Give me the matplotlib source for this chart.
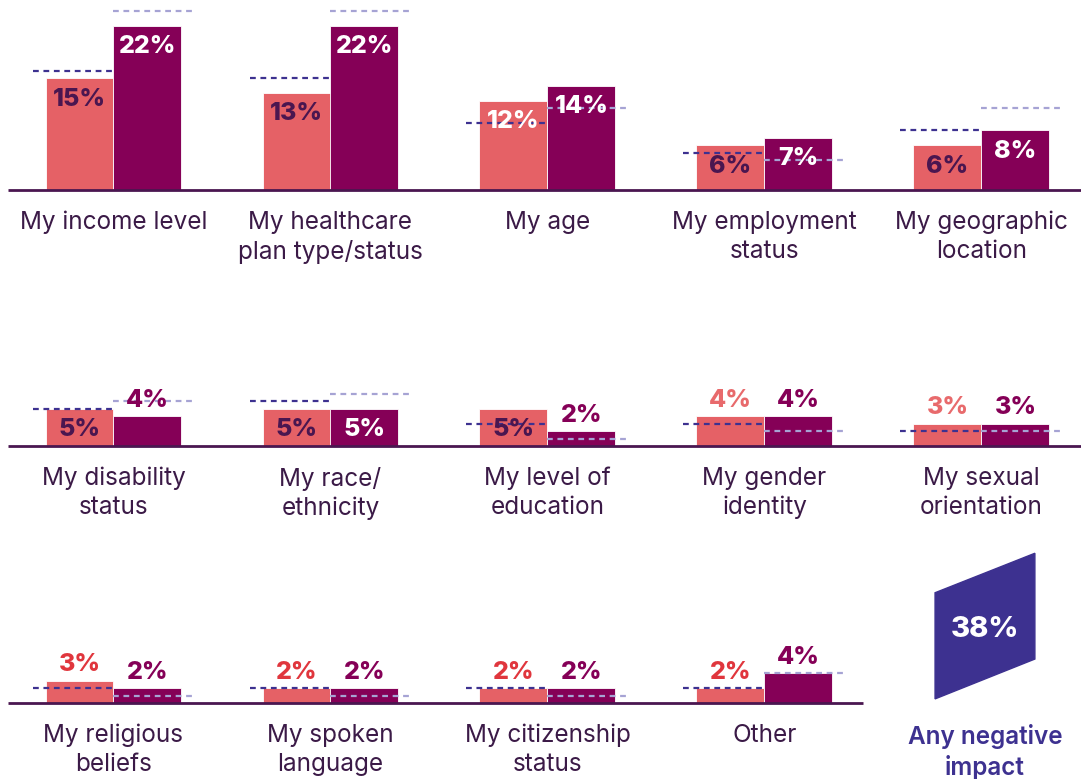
import numpy as np
import matplotlib.pyplot as plt
from matplotlib.patches import Polygon

# three rows of five categories (last row has four plus the overall figure)
categories = [
    ["My income level", "My healthcare\nplan type/status", "My age",
     "My employment\nstatus", "My geographic\nlocation"],
    ["My disability\nstatus", "My race/\nethnicity", "My level of\neducation",
     "My gender\nidentity", "My sexual\norientation"],
    ["My religious\nbeliefs", "My spoken\nlanguage", "My citizenship\nstatus", "Other"],
]
# current values (salmon = group A, purple = group B)
group_a = [[15, 13, 12, 6, 6], [5, 5, 5, 4, 3], [3, 2, 2, 2]]
group_b = [[22, 22, 14, 7, 8], [4, 5, 2, 4, 3], [2, 2, 2, 4]]
# previous-year values, drawn as dashed reference lines
prev_a = [[16, 15, 9, 5, 8], [5, 6, 3, 3, 2], [2, 2, 2, 2]]
prev_b = [[24, 24, 11, 4, 11], [6, 7, 1, 2, 2], [1, 1, 1, 4]]
any_negative = 38

SALMON = "#e56166"
PURPLE = "#850057"
DARK = "#4a1650"
TEXT = "#3b1a47"
NAVY = "#3d3190"
LAVENDER = "#a6a3d4"
above_a_colors = ["#e86a6c", "#e86a6c", "#e0363d"]
white_labels_a = {"My age"}

W, H = 1081, 779
fig = plt.figure(figsize=(W / 100, H / 100), dpi=100)
plt.rcParams["font.family"] = ["Inter", "DejaVu Sans"]

px_per_pct = 7.45
baselines = [190, 446, 703]
x0, step = 113.5, 217.0
bw = 68 / step
ext = 13 / step
xmin, xmax = (8 - x0) / step, (1081 - x0) / step

LABEL_FS = 17.5
PCT_FS = 18

for r in range(3):
    top = baselines[r] - 25 * px_per_pct
    ax = fig.add_axes([8 / W, 1 - baselines[r] / H, (1081 - 8) / W, (baselines[r] - top) / H])
    ax.set_xlim(xmin, xmax)
    ax.set_ylim(0, 25)
    ax.axis("off")
    n = len(categories[r])
    xs = np.arange(n)
    a, b = group_a[r], group_b[r]
    ax.bar(xs - bw / 2, a, width=bw, color=SALMON, edgecolor="white", linewidth=0.6, zorder=2)
    ax.bar(xs + bw / 2, b, width=bw, color=PURPLE, edgecolor="white", linewidth=0.6, zorder=2)
    ax.hlines(prev_a[r], xs - bw - ext, xs, colors=NAVY, linewidth=1.6,
              linestyles=(0, (2.6, 2.1)), zorder=3)
    ax.hlines(prev_b[r], xs, xs + bw + ext, colors=LAVENDER, linewidth=1.6,
              linestyles=(0, (2.6, 2.1)), zorder=3)
    # baseline
    end = xmax if n == 5 else (863 - x0) / step
    ax.plot([xmin, end], [0, 0], color=DARK, linewidth=2, solid_capstyle="butt",
            clip_on=False, zorder=4)

    for i in range(n):
        for val, xc, kind in ((a[i], i - bw / 2, "a"), (b[i], i + bw / 2, "b")):
            if val >= 5:
                if kind == "a":
                    col = "white" if categories[r][i] in white_labels_a else DARK
                else:
                    col = "white"
                dy = -15
            else:
                col = above_a_colors[r] if kind == "a" else PURPLE
                dy = 11.5
            ax.annotate(f"{val}%", (xc, val), xytext=(0, dy), textcoords="offset points",
                        ha="center", va="center", fontsize=PCT_FS, fontweight="heavy",
                        color=col, zorder=5, annotation_clip=False)
        ax.annotate(categories[r][i], (i, 0), xytext=(0, -15), textcoords="offset points",
                    ha="center", va="top", fontsize=LABEL_FS, color=TEXT,
                    linespacing=1.32, annotation_clip=False)

    if r == 2:
        # overall share shown as a slanted panel in the last slot
        xp, hw = 4.016, 0.23
        panel = Polygon([(xp - hw, 14.8), (xp + hw, 20.1), (xp + hw, 5.9), (xp - hw, 0.55)],
                        closed=True, color=NAVY, clip_on=False, zorder=2)
        ax.add_patch(panel)
        ax.annotate(f"{any_negative}%", (xp, 9.9), ha="center", va="center",
                    fontsize=21, fontweight="heavy", color="white", annotation_clip=False)
        ax.annotate("Any negative\nimpact", (xp, 0), xytext=(0, -15), textcoords="offset points",
                    ha="center", va="top", fontsize=LABEL_FS, fontweight="semibold",
                    color=NAVY, linespacing=1.32, annotation_clip=False)

fig.savefig("out.png", dpi=100)
